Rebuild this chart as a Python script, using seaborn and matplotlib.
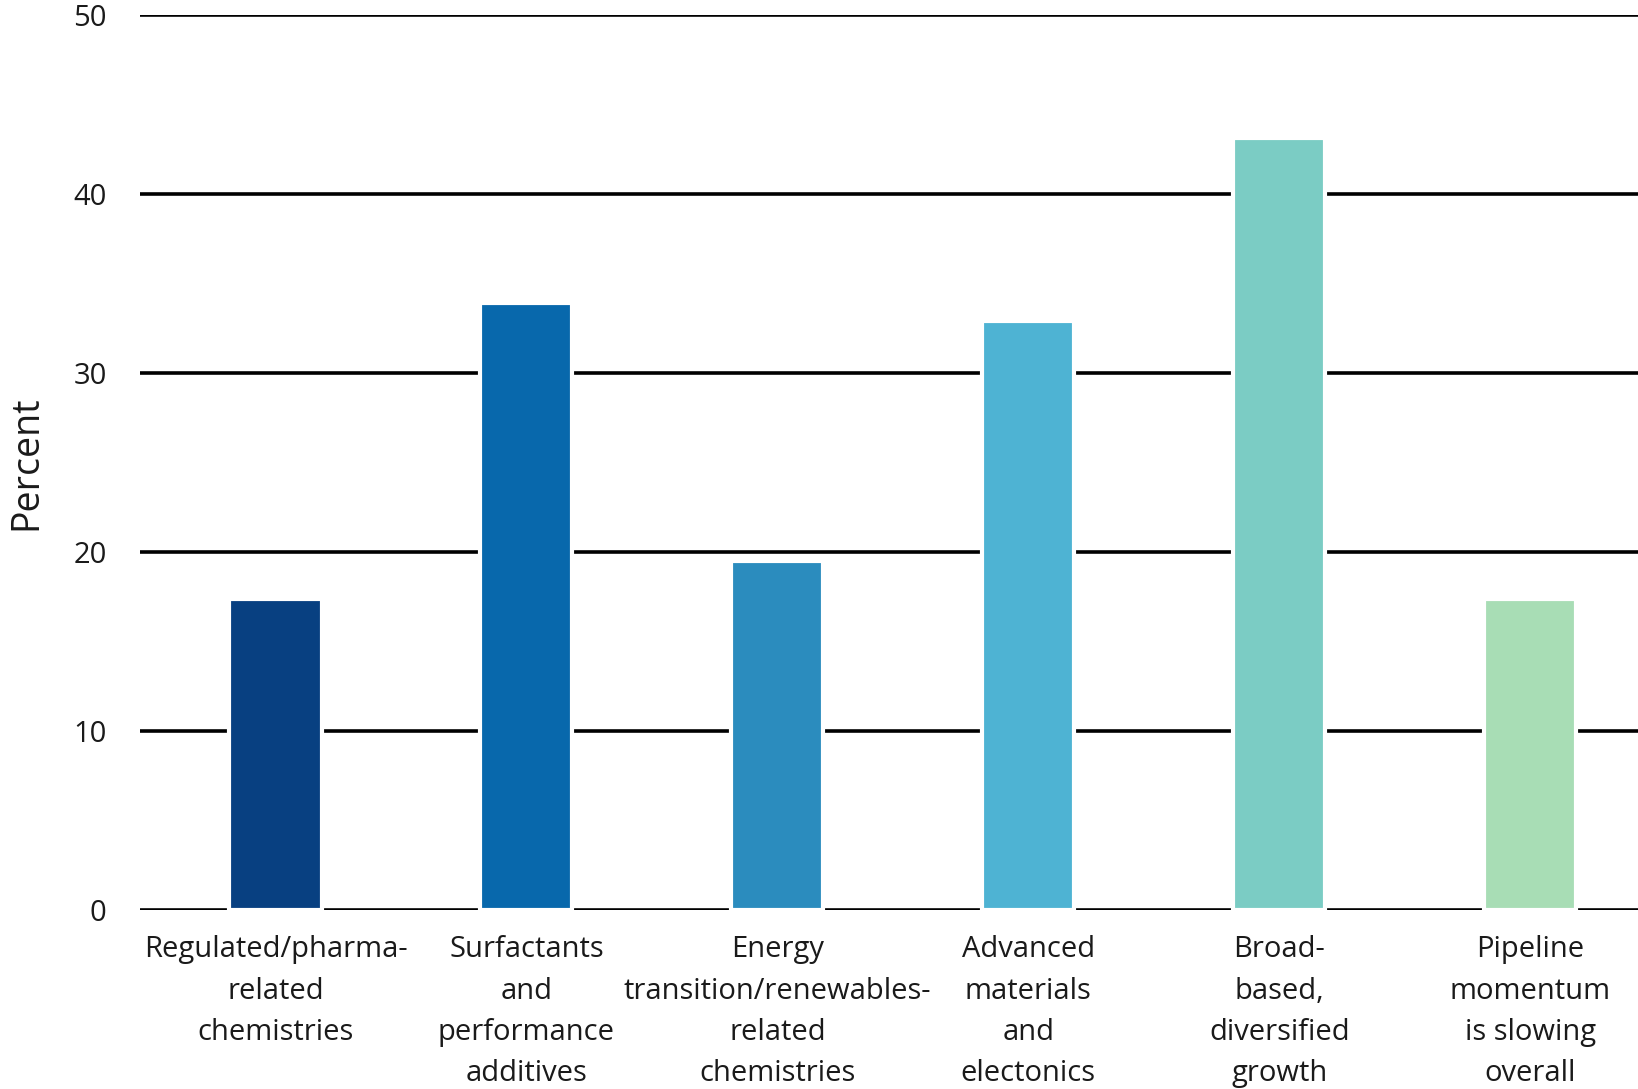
import matplotlib
matplotlib.use("Agg")
import matplotlib.pyplot as plt
import seaborn as sns
import pandas as pd

# categories and values
categories = [
    "Regulated/pharma-\nrelated\nchemistries",
    "Surfactants\nand\nperformance\nadditives",
    "Energy\ntransition/renewables-\nrelated\nchemistries",
    "Advanced\nmaterials\nand\nelectonics",
    "Broad-\nbased,\ndiversified\ngrowth",
    "Pipeline\nmomentum\nis slowing\noverall",
]
percent = [17.4, 33.9, 19.5, 32.9, 43.1, 17.4]
bar_colors = ["#084081", "#0868ac", "#2b8cbe", "#4eb3d3", "#7bccc4", "#a8ddb5"]
y_ticks = [0, 10, 20, 30, 40, 50]

df = pd.DataFrame({"category": categories, "percent": percent})

sns.set_theme(style="white")
plt.rcParams["font.family"] = ["Open Sans", "DejaVu Sans"]

fig = plt.figure(figsize=(16.38, 10.89), dpi=100)
ax = fig.add_axes([0.0855, 0.164, 0.9145, 0.8225])

sns.barplot(data=df, x="category", y="percent", hue="category",
            palette=bar_colors, legend=False, width=0.367,
            edgecolor="white", linewidth=3, saturation=1, ax=ax, zorder=3)

ax.set_ylim(0, 50)
ax.set_xlim(-0.54, 5.43)
ax.set_yticks(y_ticks)
ax.yaxis.grid(True, color="black", linewidth=2.6, zorder=0)
ax.set_axisbelow(True)
for s in ax.spines.values():
    s.set_visible(False)

ax.tick_params(axis="y", length=0, pad=24, labelsize=21, labelcolor="#1a1a1a")
ax.tick_params(axis="x", length=0, pad=18, labelsize=21, labelcolor="#1a1a1a")
for lbl in ax.get_xticklabels():
    lbl.set_linespacing(1.55)

ax.set_xlabel("")
ax.set_ylabel("Percent", fontsize=27, color="#1a1a1a")
ax.yaxis.set_label_coords(-0.063, 0.5)

fig.savefig("out.png", dpi=100)
